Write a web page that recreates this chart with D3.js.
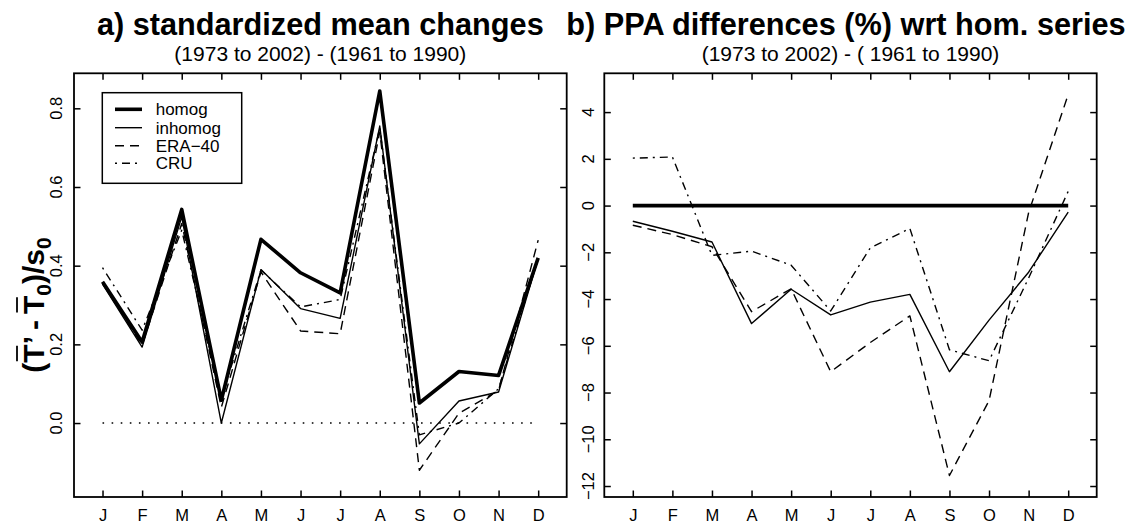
<!DOCTYPE html>
<html><head><meta charset="utf-8">
<script src="https://cdn.jsdelivr.net/npm/d3@7"></script>
<style>body{margin:0;background:#fff}svg{display:block}text{font-family:"Liberation Sans",Arial,sans-serif;fill:#000}</style>
</head><body><svg id="c" width="1128" height="524"></svg>
<script>
const months = ["J","F","M","A","M","J","J","A","S","O","N","D"];
const ticksA = [0.0,0.2,0.4,0.6,0.8];
const ticksB = [-12,-10,-8,-6,-4,-2,0,2,4];
const seriesNames = ["homog","inhomog","ERA\u221240","CRU"];
// panel a: standardized mean changes
const aHomog   = [0.359,0.206,0.543,0.058,0.467,0.382,0.331,0.844,0.051,0.131,0.121,0.420];
const aInhomog = [0.353,0.193,0.524,0.000,0.390,0.291,0.266,0.755,-0.053,0.056,0.079,0.418];
const aERA     = [0.355,0.198,0.507,0.040,0.384,0.234,0.227,0.740,-0.120,0.025,0.083,0.465];
const aCRU     = [0.395,0.236,0.490,0.062,0.389,0.295,0.314,0.750,-0.030,0.000,0.087,0.420];
// panel b: PPA differences (%)
const bHomog   = [0,0,0,0,0,0,0,0,0,0,0,0];
const bInhomog = [-0.67,-1.10,-1.56,-5.05,-3.58,-4.68,-4.13,-3.80,-7.11,-4.90,-2.85,-0.28];
const bERA     = [-0.84,-1.24,-1.76,-4.54,-3.56,-7.11,-5.86,-4.72,-11.55,-8.35,-0.30,4.75];
const bCRU     = [2.03,2.08,-2.13,-1.95,-2.55,-4.51,-1.81,-0.98,-6.17,-6.64,-3.10,0.61];

const styles = [
  {w:3.6, dash:null},
  {w:1.4, dash:null},
  {w:1.4, dash:"9,6"},
  {w:1.4, dash:"2,5,8,5"}
];
const svg = d3.select("#c");
const font = '"Liberation Sans",Arial,sans-serif';

function panel(x0,x1,yDom,ticks,fmt,data,labX){
  const y0=73.3,y1=497;
  const x = d3.scaleLinear().domain([0.28,12.72]).range([x0,x1]);
  const y = d3.scaleLinear().domain(yDom).range([y1,y0]);
  const g = svg.append("g");
  const idx = d3.range(1,13);
  const tl=6.5;
  g.append("g").attr("transform",`translate(0,${y1})`)
    .call(d3.axisBottom(x).tickValues(idx).tickSizeInner(-tl).tickSizeOuter(0).tickFormat(d=>months[d-1]))
    .call(s=>{s.select(".domain").remove();s.selectAll("line").attr("stroke-width",1.5);
      s.selectAll("text").attr("y",24).attr("dy",0).style("font-size","16.5px").style("font-family",font);});
  g.append("g").attr("transform",`translate(0,${y0})`)
    .call(d3.axisTop(x).tickValues(idx).tickSizeInner(-tl).tickSizeOuter(0).tickFormat(""))
    .call(s=>{s.select(".domain").remove();s.selectAll("line").attr("stroke-width",1.5);});
  g.append("g").attr("transform",`translate(${x0},0)`)
    .call(d3.axisLeft(y).tickValues(ticks).tickSizeInner(-tl).tickSizeOuter(0).tickFormat(""))
    .call(s=>{s.select(".domain").remove();s.selectAll("line").attr("stroke-width",1.5);});
  g.append("g").attr("transform",`translate(${x1},0)`)
    .call(d3.axisRight(y).tickValues(ticks).tickSizeInner(-tl).tickSizeOuter(0).tickFormat(""))
    .call(s=>{s.select(".domain").remove();s.selectAll("line").attr("stroke-width",1.5);});
  ticks.forEach(t=>{
    g.append("text").attr("transform",`translate(${labX},${y(t)}) rotate(-90)`)
      .attr("text-anchor","middle").attr("dy","0.35em").style("font-size","16.5px").text(fmt(t));
  });
  g.append("rect").attr("x",x0).attr("y",y0).attr("width",x1-x0).attr("height",y1-y0)
    .attr("fill","none").attr("stroke","#000").attr("stroke-width",1.8);
  const line = d3.line().x((d,i)=>x(i+1)).y(d=>y(d));
  data.forEach((ser,k)=>{
    g.append("path").attr("d",line(ser)).attr("fill","none").attr("stroke","#000")
      .attr("stroke-width",styles[k].w).attr("stroke-dasharray",styles[k].dash)
      .attr("stroke-linejoin","round");
  });
  return {x,y,g};
}

const A = panel(74,566.7,[-0.188,0.889],ticksA,d=>d.toFixed(1),[aHomog,aInhomog,aERA,aCRU],56);
A.g.append("line").attr("x1",A.x(1)).attr("x2",A.x(12)).attr("y1",A.y(0)).attr("y2",A.y(0))
  .attr("stroke","#000").attr("stroke-width",1.6).attr("stroke-dasharray","1.6,7.5");
const B = panel(604.3,1096.7,[-12.47,5.66],ticksB,d=>d<0?"\u2212"+Math.abs(d):String(d),[bHomog,bInhomog,bERA,bCRU],588);

// titles
svg.append("text").attr("x",320.3).attr("y",35).attr("text-anchor","middle")
  .style("font-size","30.7px").style("font-weight","bold").text("a) standardized mean changes");
svg.append("text").attr("x",320.3).attr("y",61).attr("text-anchor","middle")
  .style("font-size","21px").text("(1973 to 2002) - (1961 to 1990)");
svg.append("text").attr("x",846).attr("y",35).attr("text-anchor","middle")
  .style("font-size","30.7px").style("font-weight","bold").text("b) PPA differences (%) wrt hom. series");
svg.append("text").attr("x",850.5).attr("y",61).attr("text-anchor","middle")
  .style("font-size","21px").text("(1973 to 2002) - ( 1961 to 1990)");

// legend
const lg = svg.append("g");
lg.append("rect").attr("x",102.3).attr("y",92.7).attr("width",139.4).attr("height",90.6)
  .attr("fill","#fff").attr("stroke","#000").attr("stroke-width",1.5);
const ly=[109.3,127.7,145.7,163.3];
seriesNames.forEach((n,k)=>{
  lg.append("line").attr("x1",115).attr("x2",142).attr("y1",ly[k]).attr("y2",ly[k])
    .attr("stroke","#000").attr("stroke-width",styles[k].w).attr("stroke-dasharray",styles[k].dash);
  lg.append("text").attr("x",155.7).attr("y",ly[k]).attr("dy","0.35em").style("font-size","17px").text(n);
});

// y-axis label (T'-T0)/s0 with overbars
const yl = svg.append("g").attr("transform","translate(33,305) rotate(-90)");
const yt = yl.append("text").attr("text-anchor","middle").attr("dy","0.35em")
  .style("font-size","30px").style("font-weight","bold");
yt.append("tspan").text("(");
yt.append("tspan").text("T");
yt.append("tspan").text("\u2019\u2009-\u2009");
yt.append("tspan").text("T");
yt.append("tspan").text("0").attr("dy","7").style("font-size","21px");
yt.append("tspan").text(")/s").attr("dy","-7");
yt.append("tspan").text("0").attr("dy","7").style("font-size","21px");
const node = yt.node();
[1,6].forEach(ci=>{
  const s = node.getStartPositionOfChar(ci), e = node.getEndPositionOfChar(ci);
  yl.append("line").attr("x1",s.x+1.5).attr("x2",e.x-1.5).attr("y1",-16).attr("y2",-16)
    .attr("stroke","#000").attr("stroke-width",1.8);
});
</script></body></html>
